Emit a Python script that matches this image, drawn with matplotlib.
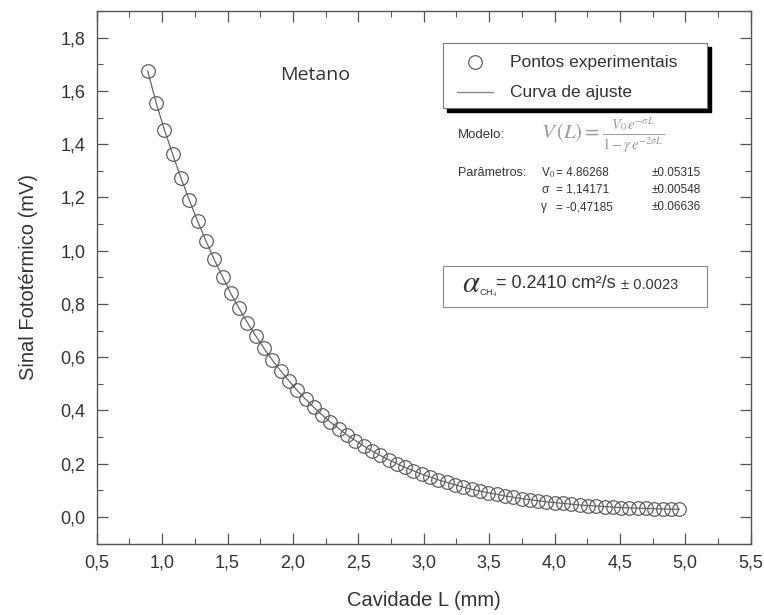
import matplotlib
matplotlib.use("Agg")
import matplotlib.pyplot as plt
from matplotlib.patches import Rectangle
from matplotlib.lines import Line2D
from matplotlib.ticker import MultipleLocator, FuncFormatter

plt.rcParams['font.family'] = ['Liberation Sans', 'DejaVu Sans']
plt.rcParams['mathtext.fontset'] = 'stix'

# cavity length (mm) and photothermal signal (mV)
cavidade = [0.890, 0.954, 1.017, 1.081, 1.144, 1.208, 1.271, 1.335, 1.398, 1.462,
            1.525, 1.589, 1.652, 1.716, 1.779, 1.843, 1.906, 1.970, 2.033, 2.097,
            2.160, 2.224, 2.287, 2.351, 2.414, 2.478, 2.541, 2.605, 2.668, 2.732,
            2.795, 2.859, 2.922, 2.986, 3.049, 3.113, 3.176, 3.240, 3.303, 3.367,
            3.430, 3.494, 3.557, 3.621, 3.684, 3.748, 3.811, 3.875, 3.938, 4.002,
            4.065, 4.129, 4.192, 4.256, 4.319, 4.383, 4.446, 4.510, 4.573, 4.637,
            4.700, 4.764, 4.827, 4.891, 4.954]
sinal = [1.675, 1.556, 1.455, 1.362, 1.273, 1.190, 1.111, 1.037, 0.967, 0.902,
         0.840, 0.783, 0.730, 0.680, 0.633, 0.589, 0.549, 0.511, 0.475, 0.442,
         0.412, 0.383, 0.356, 0.332, 0.308, 0.287, 0.267, 0.248, 0.231, 0.215,
         0.200, 0.186, 0.173, 0.161, 0.150, 0.139, 0.130, 0.121, 0.112, 0.104,
         0.097, 0.091, 0.085, 0.079, 0.074, 0.069, 0.065, 0.061, 0.057, 0.054,
         0.051, 0.048, 0.045, 0.043, 0.041, 0.039, 0.037, 0.035, 0.034, 0.033,
         0.032, 0.031, 0.030, 0.029, 0.029]

param_nomes = ['V$_0$', 'σ', 'γ']
param_valores = ['4.86268', '1,14171', '-0,47185']
param_erros = ['±0.05315', '±0.00548', '±0.06636']

W, H = 764, 615
fig = plt.figure(figsize=(W / 100, H / 100), dpi=100)
ax = fig.add_axes([96.7 / W, 1 - 543.6 / H, 654 / W, 532.6 / H])
tf = fig.transFigure

def fx(px):
    return px / W

def fy(py):
    return 1 - py / H

cinza = '#555555'
texto = '#333333'

# fitted curve and measured points
ax.plot(cavidade, sinal, '-', color='#666666', lw=0.9, zorder=2)
ax.plot(cavidade, sinal, 'o', ms=9.8, mfc='none', mec='#606060', mew=0.9, zorder=3)

ax.set_xlim(0.5, 5.5)
ax.set_ylim(-0.1, 1.9)
ax.xaxis.set_major_locator(MultipleLocator(0.5))
ax.xaxis.set_minor_locator(MultipleLocator(0.25))
ax.yaxis.set_major_locator(MultipleLocator(0.2))
ax.yaxis.set_minor_locator(MultipleLocator(0.1))
virgula = FuncFormatter(lambda v, p: f'{v:.1f}'.replace('.', ','))
ax.xaxis.set_major_formatter(virgula)
ax.yaxis.set_major_formatter(virgula)
ax.tick_params(which='both', direction='in', top=True, right=True,
               color=cinza, labelcolor=texto, labelsize=13)
ax.tick_params(which='major', length=8, width=0.9, pad=8)
ax.tick_params(which='minor', length=4, width=0.8)
for s in ax.spines.values():
    s.set_color(cinza)
    s.set_linewidth(1.0)

ax.set_xlabel('Cavidade L (mm)', fontsize=14.5, color=texto, labelpad=14)
ax.set_ylabel('Sinal Fototérmico (mV)', fontsize=14.5, color=texto, labelpad=16)

ax.text(fx(280), fy(75), 'Metano', family=['Open Sans', 'DejaVu Sans'],
        fontsize=14, color=texto, va='center', transform=tf)

# legend box with heavy shadow
ax.add_patch(Rectangle((fx(447), fy(112)), fx(264), 65 / H, transform=tf, clip_on=False,
                       facecolor='black', edgecolor='black', zorder=5))
ax.add_patch(Rectangle((fx(443), fy(108)), fx(264), 65 / H, transform=tf, clip_on=False,
                       facecolor='white', edgecolor='#777777', lw=0.8, zorder=6))
ax.add_line(Line2D([fx(475)], [fy(62)], marker='o', ms=9.8, mfc='none', mec='#606060',
                   mew=0.9, transform=tf, clip_on=False, zorder=7))
ax.add_line(Line2D([fx(457), fx(493)], [fy(92), fy(92)], color='#888888', lw=1,
                   transform=tf, clip_on=False, zorder=7))
ax.text(fx(510), fy(62), 'Pontos experimentais', fontsize=12.5, color=texto,
        va='center', transform=tf, zorder=8)
ax.text(fx(510), fy(92), 'Curva de ajuste', fontsize=12.5, color=texto,
        va='center', transform=tf, zorder=8)

# model and parameters
ax.text(fx(458), fy(135), 'Modelo:', fontsize=9.5, color=texto, va='center', transform=tf)
ax.text(fx(603), fy(136), r'$V\,(L) = \frac{V_0\,e^{-\sigma L}}{1-\gamma\,e^{-2\sigma L}}$',
        fontsize=15, color='#9a9a9a', ha='center', va='center', transform=tf)
ax.text(fx(458), fy(173), 'Parâmetros:', fontsize=9, color=texto, va='center', transform=tf)
for i, (n, v, e) in enumerate(zip(param_nomes, param_valores, param_erros)):
    y = fy(173 + 17 * i)
    ax.text(fx(541), y, n, fontsize=8.5, color=texto, va='center', transform=tf)
    ax.text(fx(556), y, '= ' + v, fontsize=8.5, color=texto, va='center', transform=tf)
    ax.text(fx(652), y, e, fontsize=8.5, color=texto, va='center', transform=tf)

# thermal diffusivity result
ax.add_patch(Rectangle((fx(443), fy(307)), fx(264), 41 / H, transform=tf, clip_on=False,
                       facecolor='white', edgecolor='#888888', lw=0.8, zorder=5))
alfa = ax.text(fx(462), fy(284), r'$\alpha$', fontsize=22,
               color=texto, va='center', transform=tf, zorder=6)
sub = ax.annotate('CH$_4$', xy=(1, 0.2), xycoords=alfa, xytext=(-1, 0),
                  textcoords='offset points', fontsize=6.5, color=texto, va='center',
                  annotation_clip=False, zorder=6)
valor = ax.annotate('= 0.2410 cm²/s', xy=(1, 0.5), xycoords=alfa, xytext=(11, 0),
                    textcoords='offset points', fontsize=13, color=texto, va='center',
                    annotation_clip=False, zorder=6)
ax.annotate('± 0.0023', xy=(1, 0.45), xycoords=valor, xytext=(4, 0),
            textcoords='offset points', fontsize=10.5, color=texto, va='center',
            annotation_clip=False, zorder=6)

fig.savefig('out.png', dpi=100, facecolor='white')
